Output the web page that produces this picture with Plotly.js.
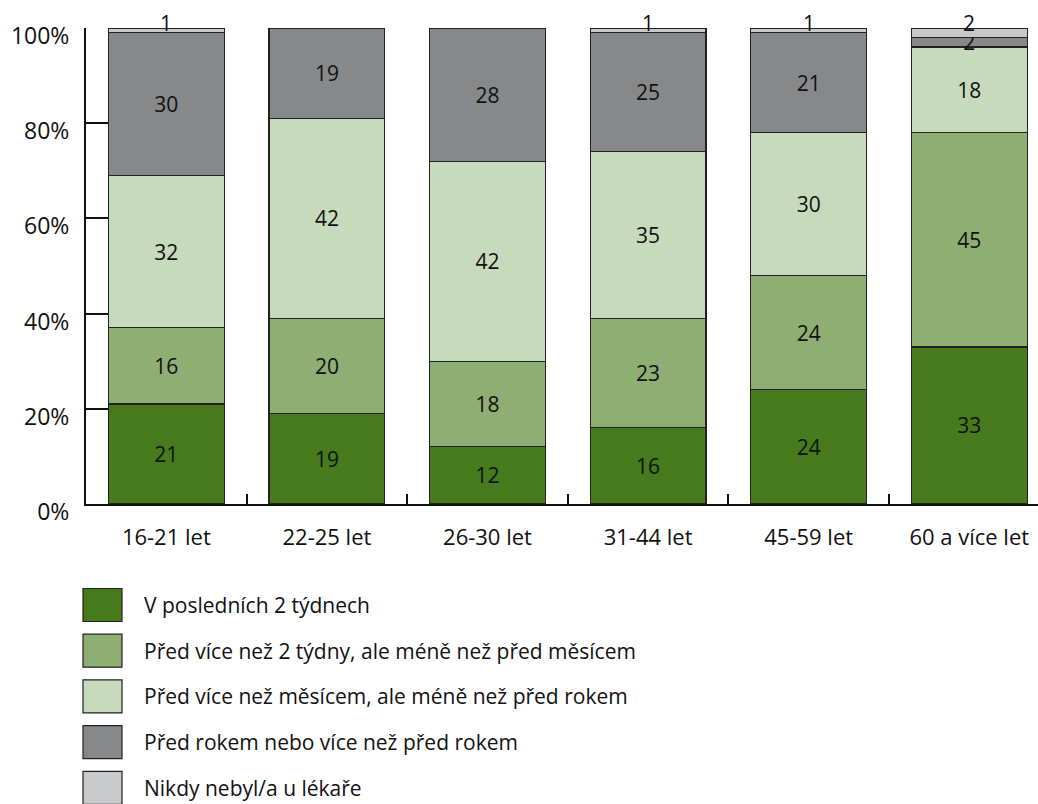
<!DOCTYPE html>
<html>
<head>
<meta charset="utf-8">
<script src="https://cdn.plot.ly/plotly-3.0.1.min.js"></script>
<style>html,body{margin:0;padding:0;background:#fff;}#chart{width:1038px;height:804px;}</style>
</head>
<body>
<div id="chart"></div>
<script>
const categories = ["16-21 let", "22-25 let", "26-30 let", "31-44 let", "45-59 let", "60 a více let"];
const seriesNames = [
  "V posledních 2 týdnech",
  "Před více než 2 týdny, ale méně než před měsícem",
  "Před více než měsícem, ale méně než před rokem",
  "Před rokem nebo více než před rokem",
  "Nikdy nebyl/a u lékaře"
];
const lastTwoWeeks     = [21, 19, 12, 16, 24, 33];
const twoWeeksToMonth  = [16, 20, 18, 23, 24, 45];
const monthToYear      = [32, 42, 42, 35, 30, 18];
const yearOrMore       = [30, 19, 28, 25, 21, 2];
const never            = [1, 0, 0, 1, 1, 2];
const yTickVals = [0, 20, 40, 60, 80, 100];
const yTickText = ["0%", "20%", "40%", "60%", "80%", "100%"];
const colors = ["#467a1d", "#8fae74", "#c8dabc", "#87888a", "#c8c9cb"];

const seriesValues = [lastTwoWeeks, twoWeeksToMonth, monthToYear, yearOrMore, never];
const FONT = "Open Sans, Noto Sans, sans-serif";
const labelFont = {family: FONT, size: 21, color: "#111"};

const traces = seriesValues.map((vals, i) => {
  const isTop = i === seriesValues.length - 1;
  return {
    type: "bar",
    name: seriesNames[i],
    x: categories,
    y: vals,
    text: vals.map(v => (v > 0 && !isTop) ? String(v) : ""),
    textposition: "inside",
    insidetextanchor: "middle",
    constraintext: "none",
    textangle: 0,
    insidetextfont: labelFont,
    cliponaxis: false,
    hoverinfo: "skip",
    marker: {color: colors[i], line: {color: "#222", width: 1.2}},
    showlegend: false
  };
});

const annotations = [];
// labels of the thin top segment, drawn just above the stack top
categories.forEach((c, j) => {
  if (never[j] > 0) {
    const total = seriesValues.reduce((s, arr) => s + arr[j], 0);
    annotations.push({
      x: c, y: total, xref: "x", yref: "y",
      yanchor: "middle", yshift: 5, showarrow: false,
      text: String(never[j]), font: labelFont
    });
  }
});

// Custom legend with large swatches (paper coords derived from pixel layout)
const plotL = 86, plotT = 28, plotW = 952, plotH = 476;
const px2x = p => (p - plotL) / plotW;
const px2y = p => (plotT + plotH - p) / plotH;
const shapes = [];
seriesNames.forEach((name, i) => {
  const cy = 605 + 45.7 * i;
  shapes.push({
    type: "rect", xref: "paper", yref: "paper",
    x0: px2x(83), x1: px2x(122), y0: px2y(cy + 16.5), y1: px2y(cy - 16.5),
    fillcolor: colors[i], line: {color: "#222", width: 1.2}
  });
  annotations.push({
    xref: "paper", yref: "paper", x: px2x(142), y: px2y(cy),
    xanchor: "left", yanchor: "middle", showarrow: false,
    text: name, font: {family: FONT, size: 21, color: "#111"}
  });
});

const layout = {
  width: 1038, height: 804,
  margin: {l: plotL, r: 0, t: plotT, b: 804 - plotT - plotH, pad: 0},
  paper_bgcolor: "#fff", plot_bgcolor: "#fff",
  barmode: "stack",
  bargap: 0.278,
  showlegend: false,
  font: {family: FONT, size: 20, color: "#111"},
  xaxis: {
    type: "category",
    range: [-0.5, 5.428],
    showgrid: false, zeroline: false,
    showline: true, linecolor: "#111", linewidth: 2,
    ticks: "inside", ticklen: 10, tickwidth: 2, tickcolor: "#111",
    tickson: "boundaries",
    ticklabelstandoff: 13,
    tickfont: {family: FONT, size: 22, color: "#111"},
    fixedrange: true
  },
  yaxis: {
    range: [0, 100],
    tickvals: yTickVals, ticktext: yTickText,
    showgrid: false, zeroline: false,
    showline: true, linecolor: "#111", linewidth: 2,
    ticks: "inside", ticklen: 22, tickwidth: 2, tickcolor: "#111",
    ticklabelshift: 8,
    ticklabelstandoff: 10,
    tickfont: {family: FONT, size: 23, color: "#111"},
    fixedrange: true
  },
  shapes: shapes,
  annotations: annotations
};

Plotly.newPlot("chart", traces, layout, {displayModeBar: false, staticPlot: true});
</script>
</body>
</html>
